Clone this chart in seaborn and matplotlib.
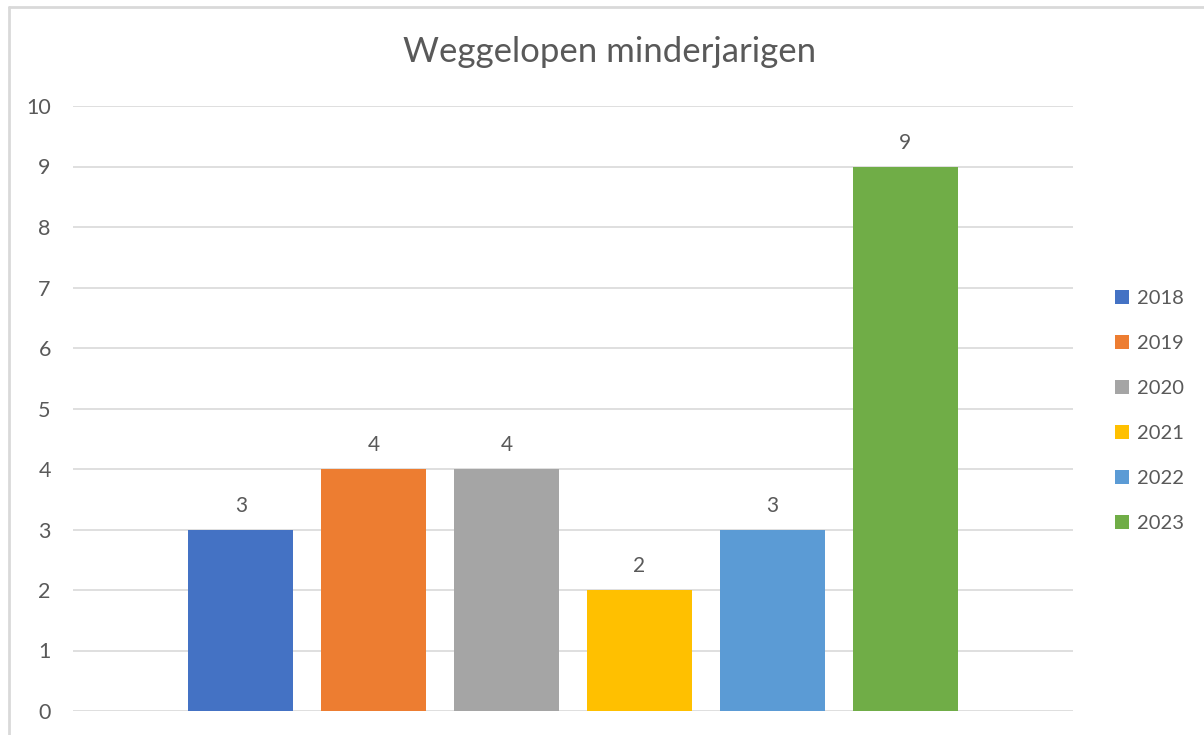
import matplotlib
matplotlib.use("Agg")
import matplotlib.pyplot as plt
import pandas as pd
import seaborn as sns
from matplotlib.lines import Line2D
from matplotlib.patches import Patch

years = ["2018", "2019", "2020", "2021", "2022", "2023"]
counts = [3, 4, 4, 2, 3, 9]
colors = ["#4472C4", "#ED7D31", "#A5A5A5", "#FFC000", "#5B9BD5", "#70AD47"]

TXT = "#595959"
GRID = "#D9D9D9"

sns.set_theme(style="white")
plt.rcParams["font.family"] = ["Lato", "DejaVu Sans"]

df = pd.DataFrame({"year": years, "count": counts})

W, H = 1204, 735
fig = plt.figure(figsize=(W / 100, H / 100), dpi=100)
ax = fig.add_axes([73 / W, 1 - 711 / H, (1073 - 73) / W, (711 - 106) / H])

sns.barplot(data=df, x="year", y="count", hue="year", palette=colors,
            width=0.79, legend=False, ax=ax, saturation=1, edgecolor="none")

ax.set_xlim(-1.263, 6.263)
ax.set_ylim(0, 10)
ax.set_yticks(range(0, 11))
ax.yaxis.grid(True, color=GRID, linewidth=1.2)
ax.set_axisbelow(True)
for s in ax.spines.values():
    s.set_visible(False)
ax.set_xticks([])
ax.set_xlabel("")
ax.set_ylabel("")
ax.tick_params(axis="y", length=0, pad=16, labelsize=15.5, labelcolor=TXT)

for c in ax.containers:
    ax.bar_label(c, fmt="%d", padding=10, fontsize=15, color=TXT)

fig.text(610 / W, 1 - 52 / H, "Weggelopen minderjarigen", ha="center", va="center",
         fontsize=25, color=TXT)

handles = [Patch(facecolor=col, edgecolor="none") for col in colors]
fig.legend(handles, years, loc="upper left", bbox_to_anchor=(1097 / W, 1 - 272 / H),
           frameon=False, fontsize=14.5, labelcolor=TXT, handlelength=0.7,
           handleheight=0.7, handletextpad=0.4, labelspacing=1.38)

# chart-area border (top and left visible)
fig.add_artist(Line2D([9 / W, 9 / W], [0, 1 - 7 / H], color=GRID, linewidth=2))
fig.add_artist(Line2D([9 / W, 1], [1 - 7 / H, 1 - 7 / H], color=GRID, linewidth=2))

fig.savefig("out.png", dpi=100)
